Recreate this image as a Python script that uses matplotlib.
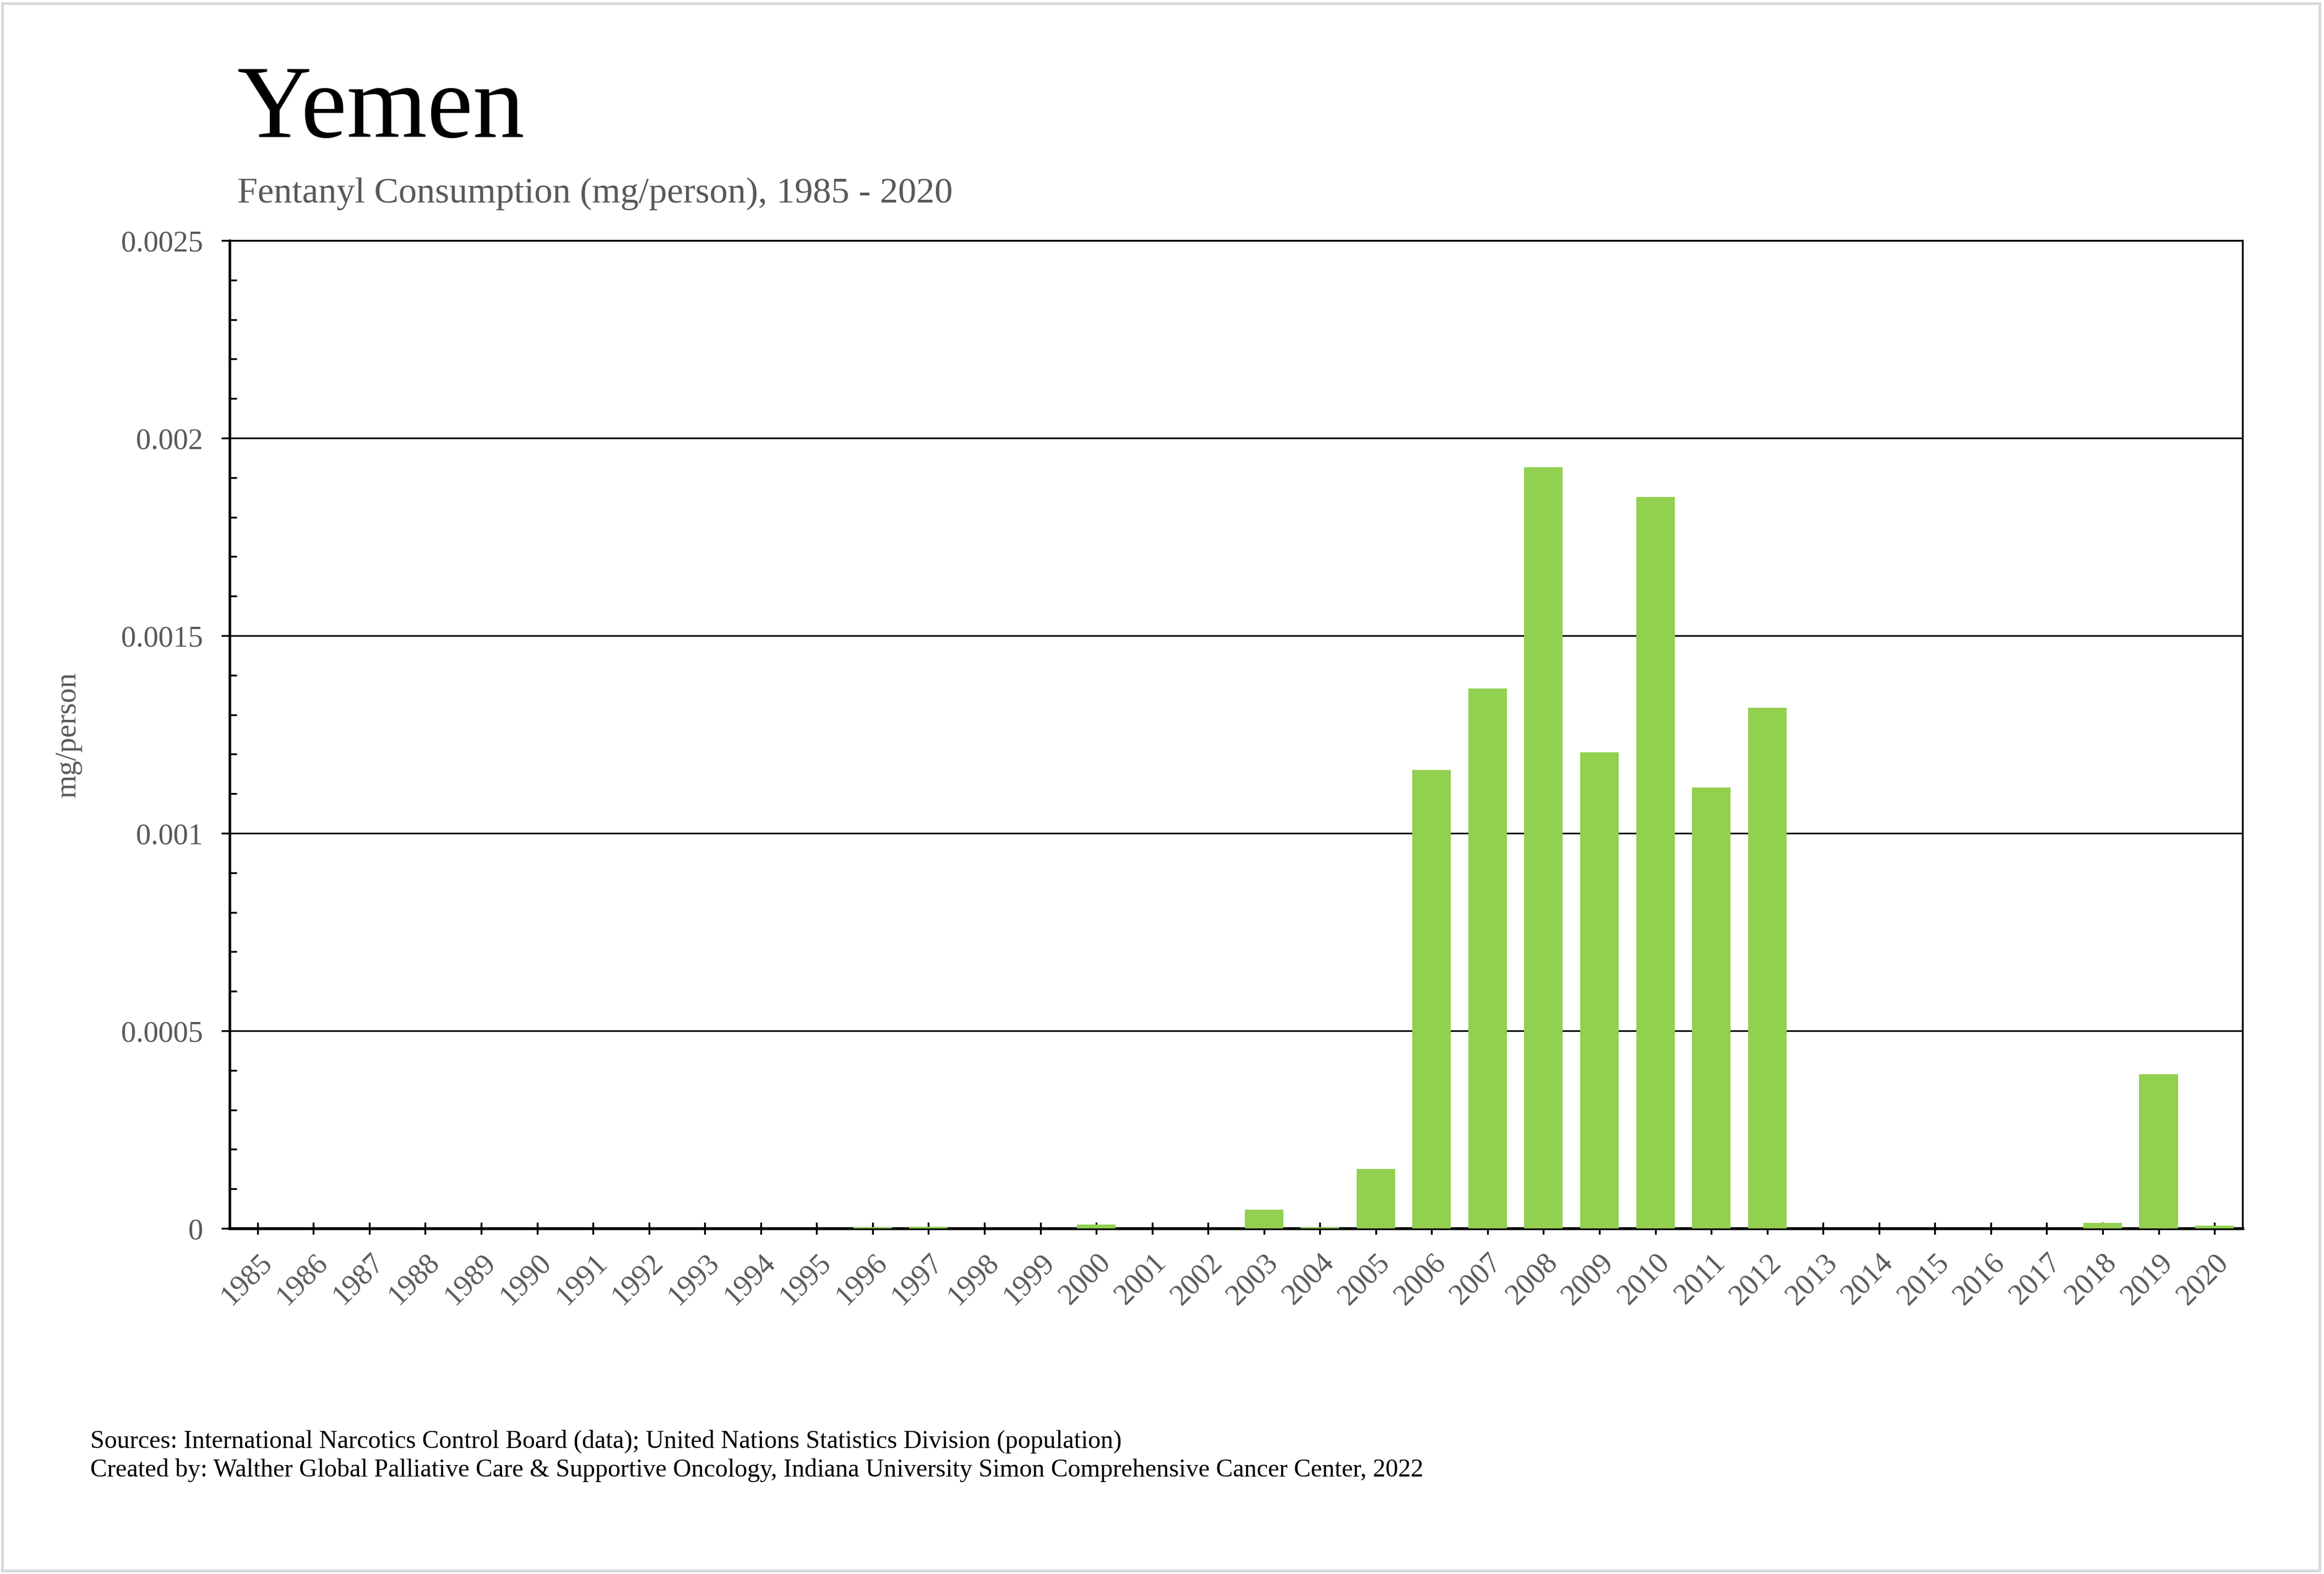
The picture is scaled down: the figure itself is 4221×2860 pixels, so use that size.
import matplotlib
matplotlib.use("Agg")
import matplotlib.pyplot as plt
from matplotlib.patches import Rectangle
from matplotlib.ticker import MultipleLocator

plt.rcParams["font.family"] = ["Liberation Serif", "DejaVu Serif"]

# Données
years = [str(y) for y in range(1985, 2021)]
values = [
    0, 0, 0, 0, 0, 0, 0, 0, 0, 0,              # 1985-1994
    0, 0.000003, 0.000004, 0, 0,                # 1995-1999
    0.00001, 0, 0, 0.000047, 0.000003,          # 2000-2004
    0.00015, 0.00116, 0.001366, 0.001926,       # 2005-2008
    0.001205, 0.001851, 0.001115, 0.001318,     # 2009-2012
    0, 0, 0, 0, 0,                              # 2013-2017
    0.000014, 0.00039, 0.000007,                # 2018-2020
]
y_ticks = [0, 0.0005, 0.001, 0.0015, 0.002, 0.0025]
y_tick_labels = ["0", "0.0005", "0.001", "0.0015", "0.002", "0.0025"]

GREY = "#595959"
GREEN = "#92D050"

fig = plt.figure(figsize=(4221 / 300, 2860 / 300), dpi=300)
ax = fig.add_axes([0.0988, 0.2196, 0.9649 - 0.0988, 0.8472 - 0.2196])

x = range(len(years))
ax.bar(x, values, width=0.69, color=GREEN, zorder=3)

ax.set_xlim(-0.5, len(years) - 0.5)
ax.set_ylim(0, 0.0025)
ax.set_yticks(y_ticks)
ax.set_yticklabels(y_tick_labels, color=GREY, fontsize=13)
ax.yaxis.set_minor_locator(MultipleLocator(0.0001))
ax.set_xticks(list(x))
ax.set_xticklabels(years, rotation=45, ha="right", rotation_mode="anchor",
                   color=GREY, fontsize=13)

ax.grid(axis="y", which="major", color="black", linewidth=0.7, zorder=0)
ax.set_axisbelow(True)
for s in ax.spines.values():
    s.set_color("black")
    s.set_linewidth(0.8)
ax.spines["left"].set_linewidth(1.1)
ax.spines["bottom"].set_linewidth(1.3)

ax.tick_params(axis="y", which="major", direction="out", length=3.6, width=0.8,
               pad=8)
ax.tick_params(axis="y", which="minor", direction="in", length=3, width=0.8)
ax.tick_params(axis="x", which="major", direction="inout", length=5.5, width=0.8,
               pad=6)

ax.set_ylabel("mg/person", color=GREY, fontsize=13, labelpad=17)

# Titres
fig.text(431 / 4221, 1 - 249 / 2860, "Yemen", fontsize=45, color="black",
         ha="left", va="baseline")
fig.text(431 / 4221, 1 - 368 / 2860, "Fentanyl Consumption (mg/person), 1985 - 2020",
         fontsize=15.9, color=GREY, ha="left", va="baseline")

# Sources
fig.text(164 / 4221, 1 - 2631 / 2860,
         "Sources: International Narcotics Control Board (data); United Nations Statistics Division (population)",
         fontsize=11.0, color="black", ha="left", va="baseline")
fig.text(164 / 4221, 1 - 2683 / 2860,
         "Created by: Walther Global Palliative Care & Supportive Oncology, Indiana University Simon Comprehensive Cancer Center, 2022",
         fontsize=11.0, color="black", ha="left", va="baseline")

# Cadre
fig.patches.append(Rectangle((0.001, 0.002), 0.997, 0.996, transform=fig.transFigure,
                             fill=False, edgecolor="#d9d9d9", linewidth=1.2))

fig.savefig("out.png", dpi=300)
plt.close(fig)
